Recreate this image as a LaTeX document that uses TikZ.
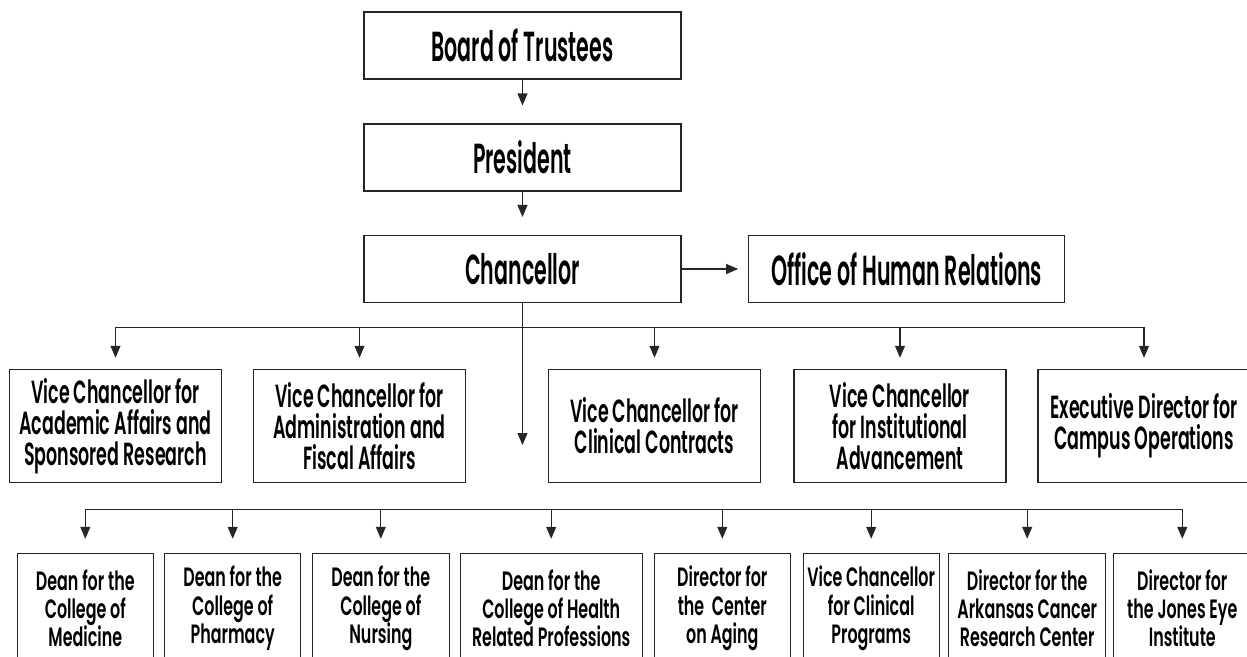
\documentclass[tikz,border=0pt]{standalone}
\usepackage{fontspec}
\newfontfamily\topfont{Poppins SemiBold}[FakeStretch=0.49]
\newfontfamily\vcfont{Poppins SemiBold}[FakeStretch=0.545]
\newfontfamily\deanfont{Poppins SemiBold}[FakeStretch=0.6]
\usetikzlibrary{arrows.meta}

\begin{document}
\begin{tikzpicture}[x=1pt,y=-1pt,
    box/.style={draw=black!85,line width=1.1pt,inner sep=0pt,align=center},
    topbox/.style={box,minimum width=317pt,minimum height=67pt,font={\topfont\fontsize{42}{46}\selectfont}},
    vcbox/.style={box,minimum width=212pt,minimum height=113pt,font={\vcfont\fontsize{32}{31}\selectfont}},
    deanbox/.style={box,minimum height=110pt,font={\deanfont\fontsize{26.5}{28.3}\selectfont}},
    wire/.style={draw=black!85,line width=1.1pt},
    arr/.style={wire,-{Triangle[length=12pt,width=10pt]}}]
\useasboundingbox (0,0) rectangle (1247,656);

\node[topbox] (board) at (522.5,45.5) {Board of Trustees};
\node[topbox] (pres) at (522.5,157.5) {President};
\node[topbox] (chanc) at (522.5,269) {Chancellor};
\node[topbox,minimum width=316pt] (ohr) at (906.7,269) {Office of Human Relations};

\node[vcbox] (vcaa) at (115.5,425.8) {Vice Chancellor for\\Academic Affairs and\\Sponsored Research};
\node[vcbox] (vcaf) at (359.5,425.8) {Vice Chancellor for\\Administration and\\Fiscal Affairs};
\node[vcbox] (vccc) at (654.5,425.8) {Vice Chancellor for\\Clinical Contracts};
\node[vcbox] (vcia) at (900,425.8) {Vice Chancellor\\for Institutional\\Advancement};
\node[vcbox] (edco) at (1144,425.8) {Executive Director for\\Campus Operations};

\node[deanbox,minimum width=136pt] (dmed) at (85.3,608.3) {Dean for the\\College of\\Medicine};
\node[deanbox,minimum width=136pt] (dpha) at (232.7,608.3) {Dean for the\\College of\\Pharmacy};
\node[deanbox,minimum width=137pt] (dnur) at (380.8,608.3) {Dean for the\\College of\\Nursing};
\node[deanbox,minimum width=182pt] (dhrp) at (551.2,608.3) {Dean for the\\College of Health\\Related Professions};
\node[deanbox,minimum width=136pt] (dage) at (722.3,608.3) {Director for\\the\ \ Center\\on Aging};
\node[deanbox,minimum width=136pt] (vccp) at (871.2,608.3) {Vice Chancellor\\for Clinical\\Programs};
\node[deanbox,minimum width=157pt] (dacr) at (1027.2,608.3) {Director for the\\Arkansas Cancer\\Research Center};
\node[deanbox,minimum width=137pt] (djei) at (1182.3,608.3) {Director for\\the Jones Eye\\Institute};

\coordinate (bus1) at (0,327.3);
\coordinate (bus2) at (0,509.3);
\coordinate (gap) at (522.5,445);

\draw[arr,shorten >=18pt] (board) -- (pres);
\draw[arr,shorten >=18pt] (pres) -- (chanc);
\draw[arr,shorten >=10pt] (chanc) -- (ohr);
\draw[arr] (chanc) -- (gap);

\draw[wire] (vcaa.north |- bus1) -- (edco.north |- bus1);
\foreach \n in {vcaa,vcaf,vccc,vcia,edco}
    \draw[arr,shorten >=11pt] (\n.north |- bus1) -- (\n.north);

\draw[wire] (dmed.north |- bus2) -- (djei.north |- bus2);
\foreach \n in {dmed,dpha,dnur,dhrp,dage,vccp,dacr,djei}
    \draw[arr,shorten >=14pt] (\n.north |- bus2) -- (\n.north);
\end{tikzpicture}
\end{document}
